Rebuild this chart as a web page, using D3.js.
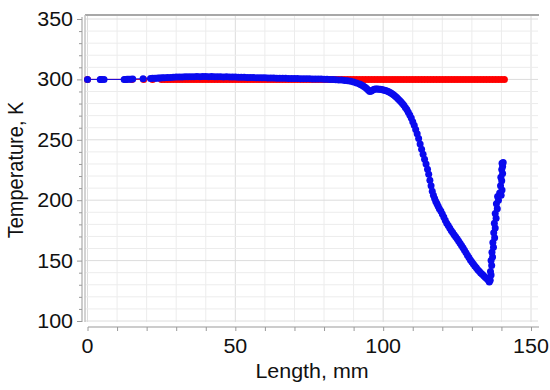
<!DOCTYPE html>
<html>
<head>
<meta charset="utf-8">
<script src="https://cdnjs.cloudflare.com/ajax/libs/d3/7.8.5/d3.min.js"></script>
<style>
    body { margin: 0; background: #fff; }
    text { font-family: Arial, "Liberation Sans", sans-serif; fill: #111; }
</style>
</head>
<body>
<div id="chart"></div>
<script>
// measured temperature along the length (blue)
var lengthMm = [0, 4.3, 4.7, 5.6, 12.4, 12.9, 13.4, 14, 14.6, 15.3, 18.8, 21.3, 22, 22.8, 23.4, 24, 24.6, 25.3,
    26, 27, 28, 29, 30, 31, 32, 33, 34, 35, 36, 37, 38, 39, 40, 41, 42, 43, 44, 45, 46, 47, 48, 49,
    50, 51, 52, 53, 54, 55, 56, 57, 58, 59, 60, 61, 62, 63, 64, 65, 66, 67, 68, 69, 70, 71, 72, 73,
    74, 75, 76, 77, 78, 79, 80, 81, 82, 83, 84, 85, 86, 87, 88, 89, 90, 91, 92, 92.5, 93, 93.5, 94,
    94.5, 95, 95.5, 96, 96.5, 97, 97.5, 98, 98.5, 99, 99.5, 100, 100.5, 101, 101.5, 102, 102.5, 103,
    103.5, 104, 104.5, 105, 105.5, 106, 106.5, 107, 107.5, 108, 108.5, 109, 109.5, 110, 110.5, 111,
    111.5, 112, 112.5, 113, 113.5, 114, 114.5, 115, 115.4, 115.8, 116.2, 116.6, 117, 117.4, 117.8,
    118.2, 118.6, 119, 119.5, 120, 120.5, 121, 121.5, 122, 122.5, 123, 123.5, 124, 124.5, 125, 125.5,
    126, 126.5, 127, 127.5, 128, 128.5, 129, 129.5, 130, 130.5, 131, 131.5, 132, 132.5, 133, 133.5,
    134, 134.5, 135, 135.5, 135.9, 136.2, 136.5, 136.3, 136.7, 136.5, 137, 136.8, 137.3, 137.1, 137.7,
    137.4, 137.9, 137.6, 138.2, 137.9, 138.6, 138.3, 139, 138.7, 139.4, 139.9, 140.2, 139.7, 140.1,
    139.8, 140.4, 140.1, 140.4, 140.2, 140.6];
var tempK = [300, 300, 300, 300, 300, 300, 300.1, 300.1, 300.2, 300.3, 300.6, 300.8, 300.9, 301, 301, 301.1, 301.2, 301.3,
    301.3, 301.5, 301.6, 301.8, 301.9, 302, 302, 302.1, 302.1, 302.2, 302.2, 302.3, 302.2, 302.3, 302.3, 302.2, 302.3, 302.2, 302.1, 302.2, 302, 302.1, 302, 301.9,
    301.9, 301.8, 301.8, 301.7, 301.6, 301.6, 301.5, 301.4, 301.4, 301.3, 301.3, 301.2, 301.1, 301.2, 301, 301, 300.9, 300.9, 300.8, 300.8, 300.7, 300.7, 300.6, 300.6,
    300.5, 300.5, 300.4, 300.4, 300.3, 300.3, 300.2, 300.1, 300, 299.9, 299.8, 299.6, 299.4, 299.1, 298.8, 298.4, 297.8, 297, 296.1, 295.6, 295, 294.2, 293.3,
    292.2, 291, 290, 290.3, 291.2, 291.8, 292, 292, 291.9, 291.8, 291.6, 291.3, 291, 290.6, 290.2, 289.6, 289, 288.1,
    287.2, 286.2, 285.2, 284, 282.8, 281.4, 280, 278.5, 276.8, 275, 272.9, 270.6, 268, 265, 262, 258.6,
    255, 251, 246.5, 242.2, 238, 233.8, 230, 225.6, 221.5, 216.5, 212, 207.5, 204, 201.5, 199,
    197, 195, 193, 191, 188.5, 186, 183.5, 181, 179, 177, 175, 173.2, 171.5, 169.8, 168, 166.2,
    164.4, 162.5, 160.6, 158.6, 156.6, 154.5, 152.5, 150.6, 148.8, 147.2, 145.6, 144, 142.5, 141.2, 139.8, 138.6,
    137.4, 136.3, 135.2, 134, 132.2, 133.8, 138, 141, 146, 150, 153, 157, 161, 165, 169,
    173, 177, 181, 185, 189, 193, 197, 200, 203, 206, 204, 208.5, 212, 216,
    219, 222, 225.5, 228, 230.5, 231.3];

// initial temperature (red), constant along the length
var initLengthMm = [0, 4.6, 13, 15, 19, 22, 25, 26, 27, 28, 29, 30, 31, 32, 33, 34, 35, 36, 37, 38, 39, 40,
    41, 42, 43, 44, 45, 46, 47, 48, 49, 50, 51, 52, 53, 54, 55, 56, 57, 58, 59, 60, 61, 62, 63, 64, 65,
    66, 67, 68, 69, 70, 71, 72, 73, 74, 75, 76, 77, 78, 79, 80, 81, 82, 83, 84, 85, 86, 87, 88, 89, 90,
    91, 92, 93, 94, 95, 96, 97, 98, 99, 100, 101, 102, 103, 104, 105, 106, 107, 108, 109, 110, 111, 112,
    113, 114, 115, 116, 117, 118, 119, 120, 121, 122, 123, 124, 125, 126, 127, 128, 129, 130, 131, 132,
    133, 134, 135, 136, 137, 138, 139, 140, 141];
var initTempK = 300;

var xTicks = [0, 50, 100, 150];
var yTicks = [100, 150, 200, 250, 300, 350];

var W = 550, H = 390;
var svg = d3.select("#chart")
        .append("svg")
        .attr("width", W)
        .attr("height", H);

var x = d3.scaleLinear().domain([0, 150]).range([87.5, 531]);
var y = d3.scaleLinear().domain([100, 350]).range([321, 19]);

var plotL = 85, plotR = 538, plotT = 15, plotB = 322;

// grid
svg.append("g")
        .selectAll("line")
        .data(d3.range(0, 151, 10))
        .enter()
        .append("line")
        .attr("x1", (d) => x(d)).attr("x2", (d) => x(d))
        .attr("y1", plotT).attr("y2", plotB)
        .attr("stroke", (d) => d % 50 === 0 ? "#dcdcdc" : "#ececec")
        .attr("stroke-width", 1);
svg.append("g")
        .selectAll("line")
        .data(d3.range(100, 351, 10))
        .enter()
        .append("line")
        .attr("x1", plotL).attr("x2", plotR)
        .attr("y1", (d) => y(d)).attr("y2", (d) => y(d))
        .attr("stroke", (d) => d % 50 === 0 ? "#dcdcdc" : "#ececec")
        .attr("stroke-width", 1);

// frame
svg.append("line")
        .attr("x1", plotL).attr("x2", plotR + 1)
        .attr("y1", plotT).attr("y2", plotT)
        .attr("stroke", "#a8a8a8").attr("stroke-width", 2);
svg.append("line")
        .attr("x1", plotL).attr("x2", plotL)
        .attr("y1", plotT).attr("y2", plotB)
        .attr("stroke", "#c4c4c4").attr("stroke-width", 1.5);

// y axis
var yAxis = d3.axisLeft(y)
        .tickValues(d3.range(100, 351, 10))
        .tickSize(4)
        .tickFormat("");
var gy = svg.append("g")
        .attr("transform", "translate(82,0)")
        .call(yAxis);
gy.select(".domain").attr("d", "M0," + (plotT + 2) + "V" + plotB);
gy.selectAll("path, line").attr("stroke", "#999");
gy.selectAll(".tick line").attr("x2", (d) => d % 50 === 0 ? -5 : -3);

svg.append("g")
        .selectAll("text")
        .data(yTicks)
        .enter()
        .append("text")
        .attr("text-anchor", "end")
        .attr("transform", (d) => "translate(73," + (y(d) + 7) + ") scale(1.1,1)")
        .style("font-size", "19.5px")
        .text((d) => d);

// x axis
var xAxis = d3.axisBottom(x)
        .tickValues(d3.range(0, 151, 10))
        .tickSize(4)
        .tickFormat("");
var gx = svg.append("g")
        .attr("transform", "translate(0,327)")
        .call(xAxis);
gx.select(".domain").attr("d", "M88,0H539");
gx.selectAll("path, line").attr("stroke", "#999");

svg.append("g")
        .selectAll("text")
        .data(xTicks)
        .enter()
        .append("text")
        .attr("text-anchor", "middle")
        .attr("transform", (d) => "translate(" + x(d) + ",353) scale(1.1,1)")
        .style("font-size", "19.5px")
        .text((d) => d);

// axis titles
svg.append("text")
        .attr("text-anchor", "middle")
        .attr("transform", "translate(312,378) scale(1.1,1)")
        .style("font-size", "19.5px")
        .text("Length, mm");
svg.append("text")
        .attr("text-anchor", "middle")
        .attr("transform", "translate(23,170) scale(1.1,1) rotate(-90)")
        .style("font-size", "20px")
        .text("Temperature, K");

// series
var line = d3.line()
        .x((d) => x(d[0]))
        .y((d) => y(d[1]));

var initData = initLengthMm.map((d) => [d, initTempK]);
var measData = lengthMm.map((d, i) => [d, tempK[i]]);

function drawSeries(data, color) {
    svg.append("path")
            .datum(data)
            .attr("d", line)
            .attr("fill", "none")
            .attr("stroke", color)
            .attr("stroke-width", 1);
    svg.append("g")
            .selectAll("circle")
            .data(data)
            .enter()
            .append("circle")
            .attr("cx", (d) => x(d[0]))
            .attr("cy", (d) => y(d[1]))
            .attr("r", 3.5)
            .attr("fill", color);
}

drawSeries(initData, "#ff0000");
drawSeries(measData, "#0a0aee");
</script>
</body>
</html>
